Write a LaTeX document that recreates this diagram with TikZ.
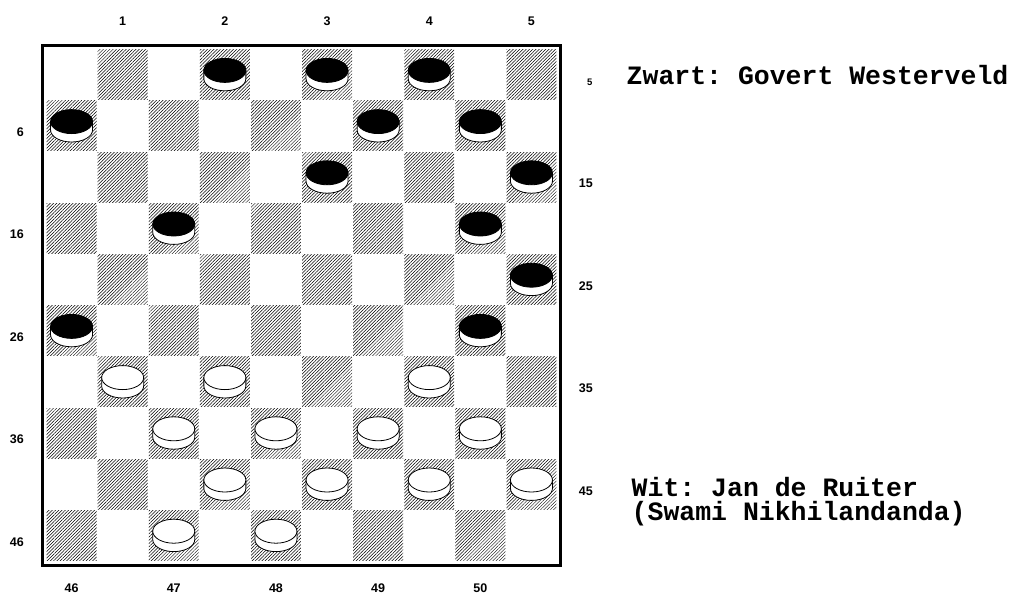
\documentclass[tikz,border=0pt]{standalone}
\usepackage{fontspec}
\setmainfont{Liberation Sans}
\newfontfamily\monob{Liberation Mono}
\usetikzlibrary{patterns.meta}
\newcommand\stone[3]{%
  \pgfmathsetmacro\cx{46+(#1-0.5)*51.1}%
  \pgfmathsetmacro\cy{49+(#2-0.5)*51.2}%
  \draw[pieceline, fill=white] (\cx-21,\cy-4.2) -- (\cx-21,\cy+4.2)
     arc[start angle=180, end angle=0, x radius=21, y radius=12] -- (\cx+21,\cy-4.2) -- cycle;
  \draw[pieceline, fill=#3] (\cx,\cy-4.2) ellipse[x radius=21, y radius=12];
}
\begin{document}
\frenchspacing
\begin{tikzpicture}[x=1pt,y=-1pt,
  lbl/.style={font=\fontsize{12.5}{13}\selectfont\bfseries, inner sep=0pt},
  lblsmall/.style={font=\fontsize{9.5}{10}\selectfont\bfseries, inner sep=0pt},
  darksq/.style={pattern={Lines[angle=45,distance=2.3pt,line width=0.5pt]}, pattern color=black},
  pieceline/.style={line width=0.8pt, draw=black},
  playertext/.style={font=\monob\fontsize{26.5}{23.3}\selectfont\bfseries\frenchspacing, inner sep=0pt, anchor=base west}]
\useasboundingbox[fill=white] (0,0) rectangle (1015,595);
% dark squares
\foreach \r in {0,...,9}{
  \foreach \c in {0,...,9}{
    \pgfmathparse{int(mod(\r+\c,2))}
    \ifnum\pgfmathresult=1
      \fill[darksq] ({46+\c*51.1+0.6},{49+\r*51.2+0.6}) rectangle ++(49.9,50);
    \fi
  }
}
% border
\draw[line width=3pt] (42.2,45.3) rectangle (560.5,565);
% black pieces
\foreach \c/\r in {4/1,6/1,8/1,1/2,7/2,9/2,6/3,10/3,3/4,9/4,10/5,1/6,9/6}{
  \stone{\c}{\r}{black}
}
% white pieces
\foreach \c/\r in {2/7,4/7,8/7,3/8,5/8,7/8,9/8,4/9,6/9,8/9,10/9,3/10,5/10}{
  \stone{\c}{\r}{white}
}
% top labels
\node[lbl] (t1) at (122.65,21) {1};
\node[lbl] (t2) at (224.85,21) {2};
\node[lbl] (t3) at (327.05,21) {3};
\node[lbl] (t4) at (429.25,21) {4};
\node[lbl] (t5) at (531.45,21) {5};
% left labels
\node[lbl, anchor=east] (l6) at (24,132.1) {6};
\node[lbl, anchor=east] (l16) at (24,234.5) {16};
\node[lbl, anchor=east] (l26) at (24,336.9) {26};
\node[lbl, anchor=east] (l36) at (24,439.3) {36};
\node[lbl, anchor=east] (l46) at (24,541.7) {46};
% right labels
\node[lblsmall, anchor=east] (r5) at (592.5,82.3) {5};
\node[lbl, anchor=east] (r15) at (593,183.3) {15};
\node[lbl, anchor=east] (r25) at (593,285.7) {25};
\node[lbl, anchor=east] (r35) at (593,388) {35};
\node[lbl, anchor=east] (r45) at (593,490.8) {45};
% bottom labels
\node[lbl] (b46) at (71.55,588.5) {46};
\node[lbl] (b47) at (173.75,588.5) {47};
\node[lbl] (b48) at (275.95,588.5) {48};
\node[lbl] (b49) at (378.15,588.5) {49};
\node[lbl] (b50) at (480.35,588.5) {50};
% player names
\node[playertext] (zw) at (626.5,84.3) {Zwart: Govert Westerveld};
\node[playertext, align=left] (wit) at (631.5,520) {Wit: Jan de Ruiter\\(Swami Nikhilandanda)};
\end{tikzpicture}
\end{document}
